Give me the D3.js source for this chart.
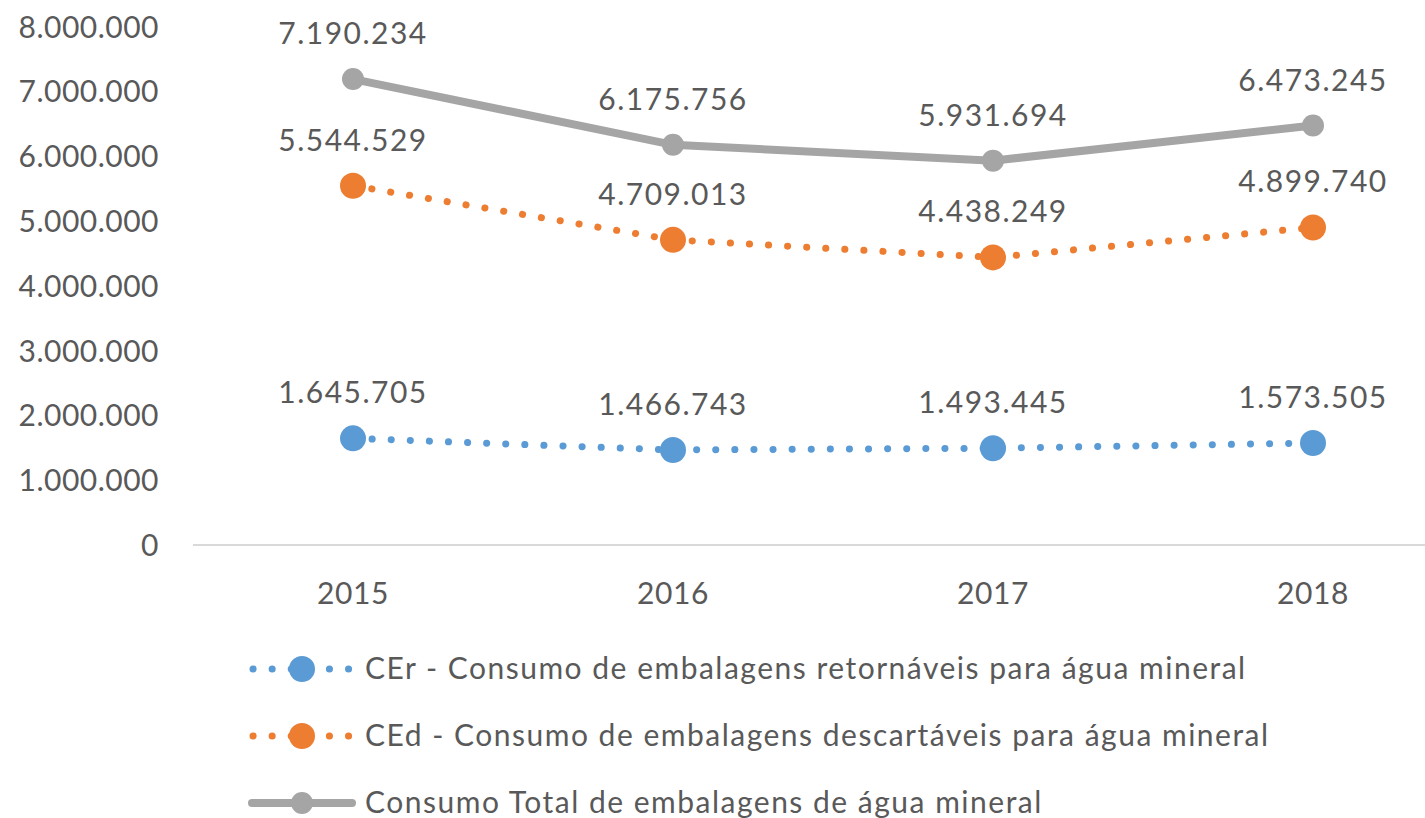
<!DOCTYPE html>
<html>
<head>
<meta charset="utf-8">
<script src="https://cdn.jsdelivr.net/npm/d3@7"></script>
<style>
	body { margin: 0; background: #fff; }
	svg { display: block; }
	text { font-family: Lato, "Open Sans", sans-serif; fill: #595959; }
</style>
</head>
<body>
<svg id="main"></svg>
<script>
var years = ['2015', '2016', '2017', '2018'];
var cer = [1645705, 1466743, 1493445, 1573505];
var ced = [5544529, 4709013, 4438249, 4899740];
var total = [7190234, 6175756, 5931694, 6473245];
var yTicks = [0, 1000000, 2000000, 3000000, 4000000, 5000000, 6000000, 7000000, 8000000];
var seriesNames = [
	'CEr - Consumo de embalagens retornáveis para água mineral',
	'CEd - Consumo de embalagens descartáveis para água mineral',
	'Consumo Total de embalagens de água mineral'
];

var width = 1425, height = 818;
var svg = d3.select('#main').attr('width', width).attr('height', height);

var fmt = v => d3.format(',')(v).replace(/,/g, '.');

var x = d3.scaleBand().domain(years).range([193, 1473]);
var y = d3.scaleLinear().domain([0, 8000000]).range([545, 26.6]);
var cx = d => x(d) + x.bandwidth() / 2;

// y labels (no axis line, no gridlines)
svg.append('g').selectAll('text').data(yTicks).join('text')
	.attr('x', 159).attr('y', d => y(d) + 11)
	.attr('text-anchor', 'end')
	.style('font-size', '30px')
	.style('letter-spacing', '0.5px')
	.text(fmt);

// category axis line
svg.append('line')
	.attr('x1', 193).attr('x2', 1473)
	.attr('y1', y(0)).attr('y2', y(0))
	.attr('stroke', '#d9d9d9').attr('stroke-width', 2);

svg.append('g').selectAll('text').data(years).join('text')
	.attr('x', cx).attr('y', 604)
	.attr('text-anchor', 'middle')
	.style('font-size', '30px')
	.style('letter-spacing', '0.6px')
	.text(d => d);

var series = [
	{name: seriesNames[0], values: cer, color: '#5b9bd5', dotted: true, r: 13},
	{name: seriesNames[1], values: ced, color: '#ed7d31', dotted: true, r: 13},
	{name: seriesNames[2], values: total, color: '#a5a5a5', dotted: false, r: 11},
];

var line = d3.line().x((d, i) => cx(years[i])).y(d => y(d));

series.slice().reverse().forEach(s => {
	var g = svg.append('g');
	g.append('path')
		.attr('d', line(s.values))
		.attr('fill', 'none')
		.attr('stroke', s.color)
		.attr('stroke-width', s.dotted ? 7 : 8)
		.attr('stroke-linecap', 'round')
		.attr('stroke-dasharray', s.dotted ? '0.1 19' : null);
	g.selectAll('circle').data(s.values).join('circle')
		.attr('cx', (d, i) => cx(years[i]))
		.attr('cy', d => y(d))
		.attr('r', s.r)
		.attr('fill', s.color);
	g.selectAll('text').data(s.values).join('text')
		.attr('x', (d, i) => cx(years[i]))
		.attr('y', d => y(d) - 35)
		.attr('text-anchor', 'middle')
		.style('font-size', '30px')
		.style('letter-spacing', '1.5px')
		.text(fmt);
});

// legend
var legend = svg.append('g');
series.forEach((s, i) => {
	var ly = 669 + i * 67;
	var lg = legend.append('g');
	lg.append('line')
		.attr('x1', s.dotted ? 253 : 252).attr('x2', s.dotted ? 353 : 352)
		.attr('y1', ly).attr('y2', ly)
		.attr('stroke', s.color)
		.attr('stroke-width', s.dotted ? 7 : 8)
		.attr('stroke-linecap', 'round')
		.attr('stroke-dasharray', s.dotted ? '0.1 19' : null);
	lg.append('circle')
		.attr('cx', 302).attr('cy', ly)
		.attr('r', s.dotted ? 13 : 11)
		.attr('fill', s.color);
	lg.append('text')
		.attr('x', 365).attr('y', ly + 10)
		.style('font-size', '30px')
		.style('letter-spacing', '1.5px')
		.text(s.name);
});
</script>
</body>
</html>
